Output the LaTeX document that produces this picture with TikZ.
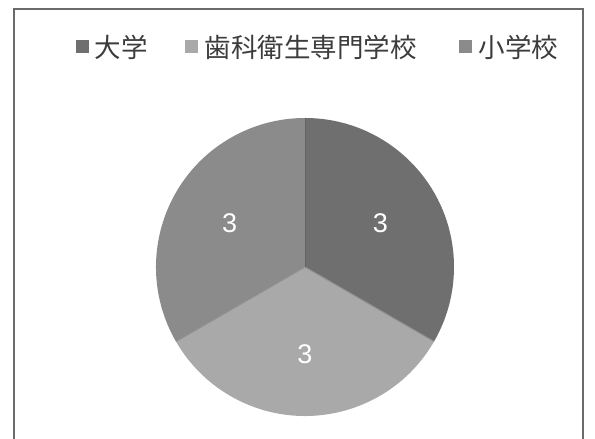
\documentclass[tikz,border=0pt]{standalone}
\usepackage{fontspec}
\setmainfont{Liberation Sans}
\newfontfamily\jpfont{Noto Sans CJK JP}
\usepackage{tikz}
\usepackage{xcolor}
\usetikzlibrary{positioning, calc}

\definecolor{daigaku}{HTML}{6F6F6F}
\definecolor{shika}{HTML}{A9A9A9}
\definecolor{shogakko}{HTML}{8B8B8B}
\definecolor{framegray}{HTML}{6A6A6A}
\definecolor{legendtext}{HTML}{3C3C3C}

\begin{document}
\begin{tikzpicture}[x=1bp, y=1bp,
    keybox/.style={rectangle, draw=none, minimum size=13bp, inner sep=0pt},
    keytext/.style={inner sep=0pt, anchor=west, text=legendtext,
        font=\jpfont\fontsize{26.5bp}{30bp}\selectfont},
    slicelabel/.style={text=white, inner sep=0pt,
        font=\fontsize{27bp}{30bp}\selectfont}]
        \useasboundingbox (0,0) rectangle (595,439);
        \fill[white] (0,0) rectangle (595,439);

        % frame
        \draw[framegray, line width=1.5bp] (14,-2) -- (14,430) -- (583,430) -- (583,-2);

        % pie
        \coordinate (o) at (305,172);
        \fill[daigaku] (o) -- ++(90:149) arc (90:-30:149) -- cycle;
        \fill[shika] (o) -- ++(-30:149) arc (-30:-150:149) -- cycle;
        \fill[shogakko] (o) -- ++(210:149) arc (210:90:149) -- cycle;
        \draw[shika!85!black, line width=1bp] (o) -- ++(-30:149)
            (o) -- ++(210:149);
        \draw[daigaku!90!black, line width=1bp] (o) -- ++(90:149);

        \node[slicelabel] (l1) at ($(o)+(30:87)$) {3};
        \node[slicelabel] (l2) at ($(o)+(270:87)$) {3};
        \node[slicelabel] (l3) at ($(o)+(150:87)$) {3};

        % legend
        \node[keybox, fill=daigaku] (k1) at (82,392) {};
        \node[keytext, right=6bp of k1] (t1) {大学};
        \node[keybox, fill=shika] (k2) at (191,392) {};
        \node[keytext, right=7bp of k2] (t2) {歯科衛生専門学校};
        \node[keybox, fill=shogakko] (k3) at (465,392) {};
        \node[keytext, right=7bp of k3] (t3) {小学校};
\end{tikzpicture}
\end{document}
